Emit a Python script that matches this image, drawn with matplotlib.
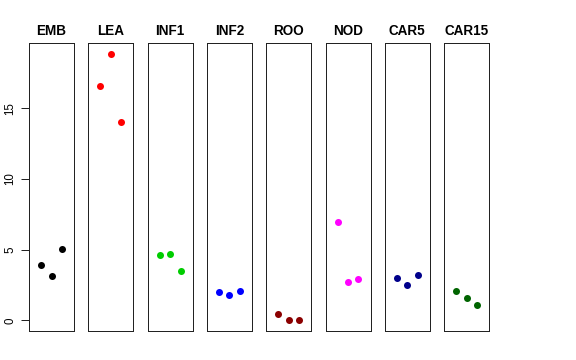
import matplotlib
matplotlib.use("Agg")
import matplotlib.pyplot as plt

plt.rcParams['font.family'] = ['Liberation Sans', 'DejaVu Sans']

categories = ["EMB", "LEA", "INF1", "INF2", "ROO", "NOD", "CAR5", "CAR15"]
values = {
    "EMB":   [3.92, 3.17, 5.08],
    "LEA":   [16.56, 18.87, 14.06],
    "INF1":  [4.63, 4.70, 3.52],
    "INF2":  [2.01, 1.82, 2.08],
    "ROO":   [0.45, 0.0, 0.0],
    "NOD":   [6.97, 2.72, 2.91],
    "CAR5":  [3.00, 2.48, 3.24],
    "CAR15": [2.06, 1.56, 1.09],
}
colors = ["#000000", "#FF0000", "#00CD00", "#0000FF", "#8B0000", "#FF00FF", "#00008B", "#006400"]
yticks = [0, 5, 10, 15]

W, H = 576, 360
fig = plt.figure(figsize=(W / 72, H / 72), dpi=72)

allv = [v for k in categories for v in values[k]]
ymin, ymax = min(allv), max(allv)
r = ymax - ymin
ylim = (ymin - 0.04 * r, ymax + 0.04 * r)
xlim = (-0.16, 4.16)

top, bottom = 43, 331
for i, cat in enumerate(categories):
    left = 29 + 59.3 * i
    ax = fig.add_axes([left / W, 1 - bottom / H, 45 / W, (bottom - top) / H])
    ax.plot([1, 2, 3], values[cat], 'o', color=colors[i], markersize=7, markeredgewidth=0)
    ax.set_xlim(*xlim)
    ax.set_ylim(*ylim)
    ax.set_xticks([])
    for s in ax.spines.values():
        s.set_linewidth(1.0)
        s.set_color("#222222")
    ax.set_title(cat, fontsize=13.5, fontweight='bold', pad=8)
    if i == 0:
        ax.set_yticks(yticks)
        ax.set_yticklabels([str(t) for t in yticks], rotation=90, va='center', fontsize=11.5)
        ax.tick_params(axis='y', length=8, width=1, pad=5, colors="#222222", labelcolor="black")
    else:
        ax.set_yticks([])

fig.savefig("out.png", dpi=72)
